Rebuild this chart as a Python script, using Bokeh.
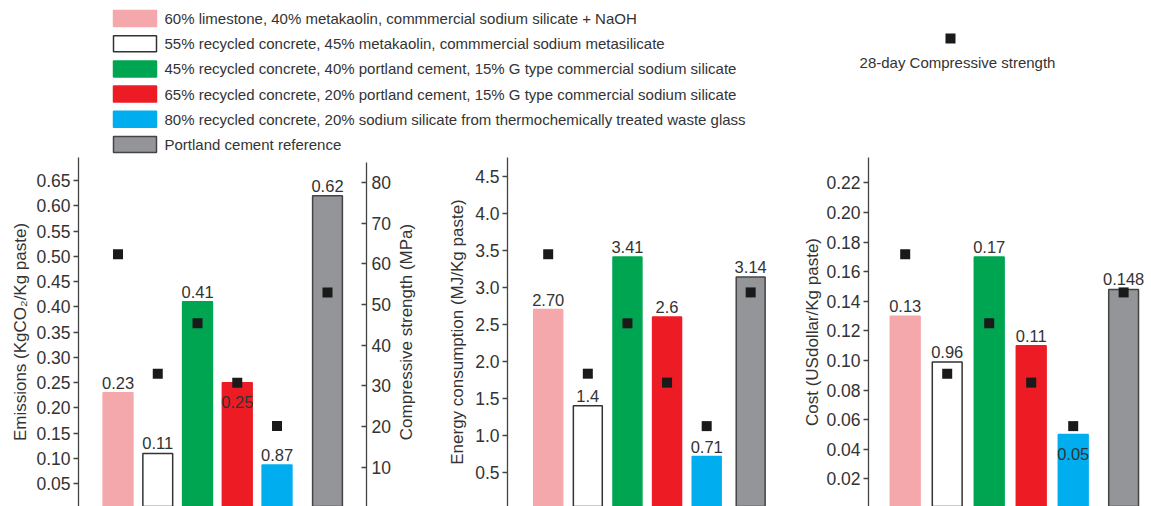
from bokeh.core.properties import value
from bokeh.embed import file_html
from bokeh.layouts import column, row
from bokeh.models import (ColumnDataSource, FixedTicker, LinearAxis,
                          PrintfTickFormatter, Range1d, SingleIntervalTicker)
from bokeh.plotting import figure
from bokeh.resources import INLINE

# ---------------------------------------------------------------- data
mixes = [
    "60% limestone,  40% metakaolin, commmercial sodium silicate + NaOH",
    "55% recycled concrete,  45% metakaolin, commmercial sodium metasilicate",
    "45% recycled concrete, 40% portland cement, 15% G type commercial sodium silicate",
    "65% recycled concrete, 20% portland cement, 15% G type commercial sodium silicate",
    "80% recycled concrete, 20% sodium silicate from thermochemically treated waste glass",
    "Portland cement reference",
]
fill_colors = ["#f5a8ab", "#ffffff", "#00a551", "#ed1c24", "#00aeef", "#939598"]
edge_colors = ["#f5a8ab", "#333333", "#00a551", "#ed1c24", "#00aeef", "#444444"]

emissions = [0.23, 0.11, 0.41, 0.25, 0.087, 0.62]          # kg CO2 / kg paste
emission_labels = ["0.23", "0.11", "0.41", "0.25", "0.87", "0.62"]
emission_inside = [False, False, False, True, False, False]

energy = [2.70, 1.40, 3.41, 2.60, 0.71, 3.14]               # MJ / kg paste
energy_labels = ["2.70", "1.4", "3.41", "2.6", "0.71", "3.14"]
energy_inside = [False, False, False, False, False, False]

cost = [0.13, 0.099, 0.17, 0.11, 0.05, 0.148]              # USD / kg paste
cost_labels = ["0.13", "0.96", "0.17", "0.11", "0.05", "0.148"]
cost_inside = [False, False, False, False, True, False]

strength = [62.4, 33.0, 45.4, 30.8, 20.1, 53.0]             # 28-day MPa

FONT = "Liberation Sans"
TEXT = "#333333"
AXIS = "#444444"
PANEL_H = 349


def style_axis(ax, title, standoff, interval, fmt, inward=False):
    ax.ticker = SingleIntervalTicker(interval=interval, num_minor_ticks=0)
    ax.formatter = PrintfTickFormatter(format=fmt)
    ax.axis_label = title
    ax.axis_label_standoff = standoff
    ax.axis_label_text_font = FONT
    ax.axis_label_text_font_size = "17px"
    ax.axis_label_text_font_style = "normal"
    ax.axis_label_text_color = TEXT
    ax.major_label_text_font = FONT
    ax.major_label_text_font_size = "17.5px"
    ax.major_label_text_color = TEXT
    ax.major_label_standoff = 3
    ax.axis_line_color = AXIS
    ax.axis_line_width = 1.3
    ax.major_tick_line_color = AXIS
    ax.major_tick_line_width = 1.3
    ax.major_tick_in = 5 if inward else 0
    ax.major_tick_out = 0 if inward else 5
    ax.minor_tick_in = 0
    ax.minor_tick_out = 0


def panel(width, border_l, border_r, x_span, y_span, gray_gap, bar_w,
          values, labels, inside, title, standoff, interval, fmt):
    p = figure(width=width, height=PANEL_H, output_backend="svg",
               toolbar_location=None, x_axis_location=None,
               x_range=Range1d(*x_span), y_range=Range1d(*y_span),
               min_border_left=border_l, min_border_right=border_r,
               min_border_top=0, min_border_bottom=0)
    p.extra_y_ranges = {"mpa": Range1d(0.32, 86.2)}
    p.grid.visible = False
    p.outline_line_color = None
    style_axis(p.yaxis[0], title, standoff, interval, fmt)

    # the reference mix sits a little apart from the five alternatives
    n = len(values)
    xs = [i + (gray_gap if i == n - 1 else 0) for i in range(n)]
    src = ColumnDataSource(dict(x=xs, top=values, fill=fill_colors, edge=edge_colors))
    p.vbar(x="x", top="top", bottom=0, width=bar_w, source=src,
           fill_color="fill", line_color="edge", line_width=1.5)

    common = dict(text_align="center", text_font=value(FONT),
                  text_font_size="16.5px", text_color=TEXT)
    up = [i for i in range(n) if not inside[i]]
    down = [i for i in range(n) if inside[i]]
    p.text(x=[xs[i] for i in up], y=[values[i] for i in up],
           text=[labels[i] for i in up], text_baseline="bottom",
           y_offset=-4, **common)
    if down:
        p.text(x=[xs[i] for i in down], y=[values[i] for i in down],
               text=[labels[i] for i in down], text_baseline="top",
               y_offset=13, **common)

    p.scatter(x=xs, y=strength, y_range_name="mpa", marker="square",
              size=10, fill_color="#1a1a1a", line_color=None)
    return p


# ---------------------------------------------------------------- legend strip
head = figure(width=1151, height=157, output_backend="svg", toolbar_location=None,
              x_range=Range1d(0, 1151), y_range=Range1d(157, 0),
              x_axis_location=None, y_axis_location=None, min_border=0)
head.grid.visible = False
head.outline_line_color = None

row_y = [18 + 25.2 * i for i in range(len(mixes))]
head.rect(x=134.5, y=row_y, width=43, height=16, fill_color=fill_colors,
          line_color=edge_colors, line_width=1.5)
head.text(x=164, y=row_y, text=mixes, text_baseline="middle",
          text_font=value(FONT), text_font_size="15px", text_color=TEXT)

head.scatter(x=[950], y=[38], marker="square", size=10,
             fill_color="#1a1a1a", line_color=None)
head.text(x=[957], y=[62], text=["28-day Compressive strength"],
          text_align="center", text_baseline="middle", text_font=value(FONT),
          text_font_size="15px", text_color=TEXT)

# ---------------------------------------------------------------- panels
p1 = panel(393, 78, 27, (-0.994, 6.251), (0.005, 0.6956), 0.27, 0.75,
           emissions, emission_labels, emission_inside,
           "Emissions (KgCO\u2082/Kg paste)", 3, 0.05, "%.2f")
right = LinearAxis(y_range_name="mpa", bounds=(0, 85))
style_axis(right, "", 0, 10, "%d", inward=True)
right.major_label_standoff = 5
p1.add_layout(right, "right")

p2 = panel(397, 107, 0, (-1.027, 6.115), (0.035, 4.758), 0.11, 0.73,
           energy, energy_labels, energy_inside,
           "Energy consumption (MJ/Kg paste)", 5, 0.5, "%.1f")
# title of the strength scale drawn on panel 1's right-hand axis
strength_title = LinearAxis(y_range_name="mpa")
style_axis(strength_title, "Compressive strength (MPa)", 30, 10, "%d")
strength_title.ticker = FixedTicker(ticks=[])
strength_title.axis_line_color = None
strength_title.major_tick_out = 0
strength_title.major_label_standoff = 0
p2.add_layout(strength_title, "left")

p3 = panel(361, 78, 0, (-0.874, 5.864), (0.00135, 0.2372), 0.2, 0.71,
           cost, cost_labels, cost_inside,
           "Cost (USdollar/Kg paste)", 1, 0.02, "%.2f")

layout = column(head, row(p1, p2, p3, spacing=0), spacing=0)

open("out.html", "w").write(file_html(layout, INLINE))
